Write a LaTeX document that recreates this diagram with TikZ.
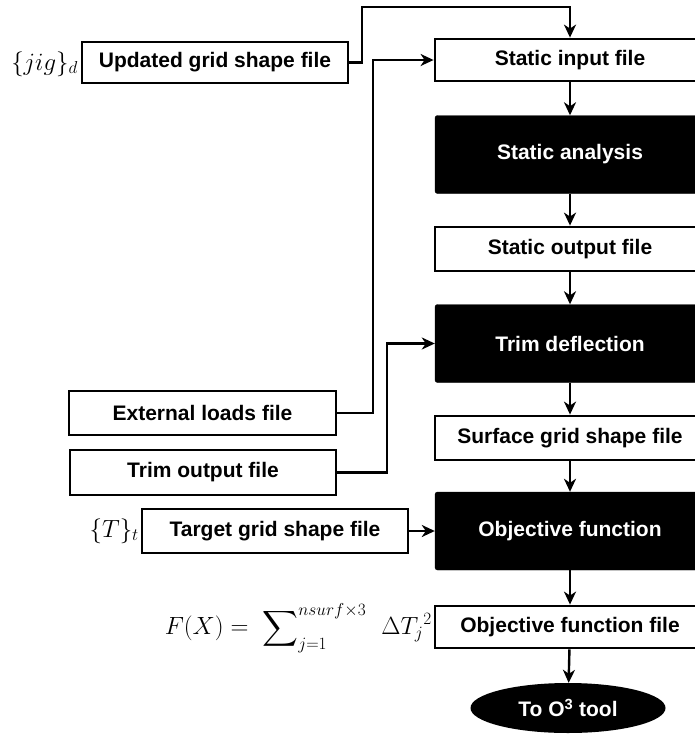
\documentclass[tikz,border=0pt]{standalone}
\usepackage{amsmath}
\usepackage{fontspec}
\setmainfont{Liberation Sans}
\usetikzlibrary{arrows.meta,shapes.geometric}
\begin{document}
\begin{tikzpicture}[x=1pt,y=-1pt,
  filebox/.style={draw=black,line width=2.8pt,fill=white,inner sep=0pt,
    font=\fontsize{21}{24}\selectfont\bfseries,text=black,anchor=center},
  procbox/.style={draw=black,fill=black,rounded corners=2.5pt,inner sep=0pt,
    font=\fontsize{21}{24}\selectfont\bfseries,text=white,anchor=center,
    minimum width=270pt,minimum height=78pt},
  conn/.style={line width=2.4pt,-{Stealth[length=13pt,width=12pt,inset=4pt]}},
  mathlbl/.style={inner sep=0pt,font=\fontsize{25}{28}\selectfont}]
\clip (0,0) rectangle (695,737);
% right column
\node[filebox,minimum width=270pt,minimum height=42pt] (sin) at (570,60) {Static input file};
\node[procbox] (san) at (570,154.5) {Static analysis};
\node[filebox,minimum width=270pt,minimum height=44pt] (sout) at (570,249) {Static output file};
\node[procbox] (trim) at (570,343.5) {Trim deflection};
\node[filebox,minimum width=270pt,minimum height=44pt] (surf) at (570,438) {Surface grid shape file};
\node[procbox] (obj) at (570,531) {Objective function};
\node[filebox,minimum width=270pt,minimum height=42pt] (objf) at (570,627) {Objective function file};
\node[ellipse,fill=black,text=white,inner sep=0pt,minimum width=195pt,minimum height=50pt,
  font=\fontsize{21}{24}\selectfont\bfseries] (o3) at (568,708) {To O\textsuperscript{3} tool};
% left column
\node[filebox,minimum width=266pt,minimum height=41pt] (upd) at (215,62.5) {Updated grid shape file};
\node[filebox,minimum width=267pt,minimum height=44pt] (ext) at (202.5,413) {External loads file};
\node[filebox,minimum width=266pt,minimum height=45pt] (tro) at (203,472.5) {Trim output file};
\node[filebox,minimum width=266pt,minimum height=44pt] (tgt) at (275,531) {Target grid shape file};
% math labels
\node[mathlbl,anchor=east] (jig) at (78,64) {$\{jig\}_d$};
\node[mathlbl,anchor=east] (tt) at (139,531) {$\{T\}_t$};
\node[mathlbl,anchor=east] (fx) at (432,628) {$F(X) =\ \displaystyle\sum\nolimits_{j=1}^{nsurf\times 3}\ \,\Delta {T_j}^{2}$};
% vertical flow
\draw[conn] (sin) -- (san);
\draw[conn] (san) -- (sout);
\draw[conn] (sout) -- (trim);
\draw[conn] (trim) -- (surf);
\draw[conn] (surf) -- (obj);
\draw[conn] (obj) -- (objf);
\draw[conn] (objf) -- (o3);
% side connectors
\coordinate (c1) at (362,7);
\draw[conn] (upd.east) -- (upd.east -| c1) -- (c1) -- (c1 -| sin.north) -- (sin.north);
\coordinate (c2) at (373,0);
\draw[conn] (ext.east) -- (ext.east -| c2) -- (sin.west -| c2) -- (sin.west);
\coordinate (c3) at (387,0);
\draw[conn] (tro.east) -- (tro.east -| c3) -- (trim.west -| c3) -- (trim.west);
\draw[conn] (tgt.east) -- (obj.west);
\end{tikzpicture}
\end{document}
